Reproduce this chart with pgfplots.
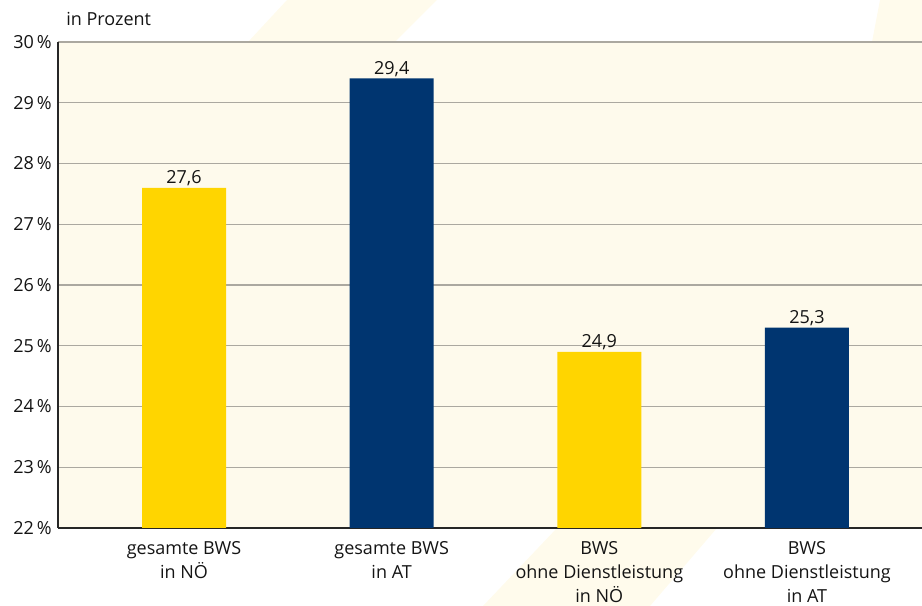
\documentclass[border=0pt]{standalone}
\usepackage{pgfplots}
\pgfplotsset{compat=1.18}
\usepackage{fontspec}
\setmainfont{Open Sans}

\definecolor{nyellow}{HTML}{FFD500}
\definecolor{nblue}{HTML}{003570}
\definecolor{panel}{HTML}{FEFAEC}
\definecolor{stripe}{HTML}{FFFBEC}
\definecolor{gridgray}{HTML}{ABA8A0}
\definecolor{txt}{HTML}{141414}

\begin{document}
\begin{tikzpicture}[x=0.75pt,y=0.75pt]
% faint diagonal bands of the page background
\fill[stripe] (190,486) -- (229,528) -- (379,528) -- (337,486) -- cycle;
\fill[stripe] (425,-78) -- (499,0) -- (659,0) -- (592,-78) -- cycle;
\fill[stripe] (814,486) -- (822,528) -- (864,528) -- (864,486) -- cycle;

\begin{axis}[
  at={(0,0)}, anchor=south west,
  scale only axis, width=648pt, height=364.5pt,
  xmin=-0.607, xmax=3.554, ymin=22, ymax=30,
  ybar, bar width=63pt,
  xtick={0,1,2,3},
  xticklabels={{gesamte BWS\\in NÖ},{gesamte BWS\\in AT},{BWS\\ohne Dienstleistung\\in NÖ},{BWS\\ohne Dienstleistung\\in AT}},
  ytick={22,23,...,30},
  yticklabel={\pgfmathprintnumber{\tick}\,\%},
  /pgf/number format/assume math mode=true,
  /pgf/number format/use comma,
  axis background/.style={fill=panel},
  ymajorgrids, grid style={gridgray, line width=0.9pt},
  axis x line*=bottom, axis y line*=left,
  axis line style={-, black!85, line width=1.5pt},
  major tick length=0pt,
  tick label style={font=\fontsize{13.5}{18}\selectfont, text=txt},
  yticklabel style={anchor=east, inner sep=0pt, xshift=-4.5pt},
  xticklabel style={anchor=north, align=center, inner sep=0pt, yshift=-10pt},
  nodes near coords={\pgfmathprintnumber[fixed,fixed zerofill,precision=1,use comma]{\pgfplotspointmeta}},
  every node near coord/.append style={anchor=base, inner sep=0pt, yshift=3pt,
    font=\fontsize{13.5}{16}\selectfont, text=txt},
  clip mode=individual,
]
\addplot[fill=nyellow, draw=none, bar shift=0pt] coordinates {(0,27.6) (2,24.9)};
\addplot[fill=nblue, draw=none, bar shift=0pt] coordinates {(1,29.4) (3,25.3)};
\end{axis}
\node[anchor=base west, inner sep=0pt, font=\fontsize{13.5}{16}\selectfont, text=txt]
  at (8,502) {in Prozent};
\pgfresetboundingbox
\path (-58,-78) rectangle (864,528);
\end{tikzpicture}
\end{document}
